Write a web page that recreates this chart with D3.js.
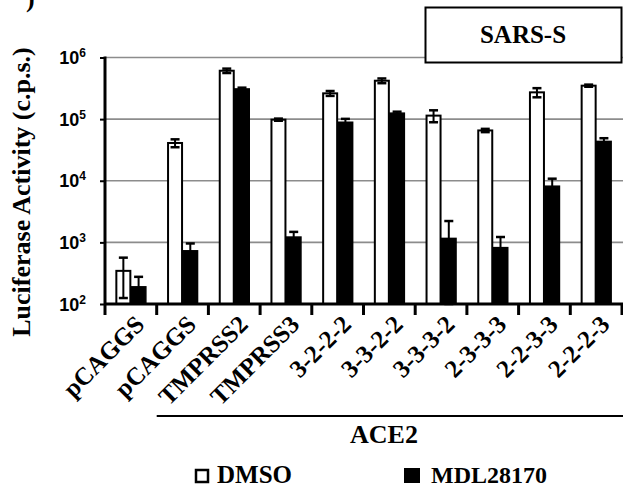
<!DOCTYPE html>
<html><head><meta charset="utf-8">
<script src="https://cdn.jsdelivr.net/npm/d3@7"></script>
<style>body{margin:0;background:#fff}svg{display:block}</style>
</head><body>
<svg id="c" width="623" height="491"></svg>
<script>
const labels = ["pCAGGS","pCAGGS","TMPRSS2","TMPRSS3","3-2-2-2","3-3-2-2","3-3-3-2","2-3-3-3","2-2-3-3","2-2-2-3"];
const dmso   = [345, 41000, 610000, 98000, 262000, 420000, 114000, 65500, 272000, 349000];
const dmsoSD = [220, 6000, 50000, 4000, 24000, 37000, 25000, 4000, 46000, 14000];
const mdl    = [190, 730, 309000, 1220, 89000, 125000, 1160, 822, 8160, 43500];
const mdlSD  = [86, 230, 15000, 260, 12000, 7000, 1060, 400, 2640, 5500];
const yTicks = [100, 1000, 10000, 100000, 1000000];
const seriesNames = ["DMSO", "MDL28170"];
const groupLabel = "ACE2";
const panelTitle = "SARS-S";
const yTitle = "Luciferase Activity (c.p.s.)";

const svg = d3.select("#c");
const serif = "Liberation Serif";
const sans = "Liberation Sans";

const x = d3.scaleBand().domain(d3.range(labels.length)).range([105, 622]).padding(0);
const y = d3.scaleLog().domain([100, 1e6]).range([304, 57.5]);

// gridlines
svg.append("g").selectAll("line").data(yTicks.slice(1)).join("line")
  .attr("x1", 105).attr("x2", 623)
  .attr("y1", d => y(d)).attr("y2", d => y(d))
  .attr("stroke", "#8c8c8c").attr("stroke-width", 1.6);

// panel title box
svg.append("rect").attr("x", 425.5).attr("y", 7.5).attr("width", 196).attr("height", 55)
  .attr("fill", "#fff").attr("stroke", "#000").attr("stroke-width", 2);
svg.append("text").attr("x", 523).attr("y", 43).attr("text-anchor", "middle")
  .attr("font-family", serif).attr("font-weight", "bold").attr("font-size", 25).text(panelTitle);

// partial panel letter at top-left
svg.append("text").attr("x", 26).attr("y", 7).attr("font-family", serif)
  .attr("font-weight", "bold").attr("font-size", 26).text(")");

const cx = i => x(i) + x.bandwidth() / 2;
const bw = 14;

// bars
const g = svg.append("g");
g.selectAll("rect.d").data(dmso).join("rect").attr("class", "d")
  .attr("x", (d, i) => cx(i) - bw - 0.5).attr("width", bw)
  .attr("y", d => y(d)).attr("height", d => y(100) - y(d))
  .attr("fill", "#fff").attr("stroke", "#000").attr("stroke-width", 2);
g.selectAll("rect.m").data(mdl).join("rect").attr("class", "m")
  .attr("x", (d, i) => cx(i) + 0.5).attr("width", bw + 0.5)
  .attr("y", d => y(d)).attr("height", d => y(100) - y(d))
  .attr("fill", "#000").attr("stroke", "#000").attr("stroke-width", 1.5);

// error bars
function errBars(vals, sds, off) {
  const eg = svg.append("g").attr("stroke", "#000");
  vals.forEach((v, i) => {
    const xc = cx(i) + off;
    const hi = v + sds[i], lo = Math.max(v - sds[i], 100);
    eg.append("line").attr("x1", xc).attr("x2", xc).attr("y1", y(hi)).attr("y2", y(lo)).attr("stroke-width", 2);
    eg.append("line").attr("x1", xc - 4.5).attr("x2", xc + 4.5).attr("y1", y(hi)).attr("y2", y(hi)).attr("stroke-width", 2.5);
    eg.append("line").attr("x1", xc - 4.5).attr("x2", xc + 4.5).attr("y1", y(lo)).attr("y2", y(lo)).attr("stroke-width", 2.5);
  });
}
errBars(dmso, dmsoSD, -bw / 2 - 0.5);
errBars(mdl, mdlSD, bw / 2 + 0.75);

// y axis
const ya = svg.append("g").attr("transform", "translate(105,0)")
  .call(d3.axisLeft(y).tickValues(yTicks).tickSize(5).tickFormat(""));
ya.select(".domain").attr("stroke-width", 3).attr("d", `M0,${y(1e6) - 1}V${y(100) + 1}`);
ya.selectAll(".tick line").attr("stroke-width", 2);
const yl = svg.append("g");
yTicks.forEach(t => {
  const e = Math.round(Math.log10(t));
  const tx = yl.append("text").attr("x", 86).attr("y", y(t) + 6.5).attr("text-anchor", "end")
    .attr("font-family", sans).attr("font-weight", "bold").attr("font-size", 18);
  tx.append("tspan").text("10");
  tx.append("tspan").attr("font-size", 12).attr("dy", -7).text(String(e));
});

// x axis
const xa = svg.append("g").attr("transform", "translate(0,304)")
  .call(d3.axisBottom(x).tickSize(0).tickFormat(""));
xa.select(".domain").attr("stroke-width", 3).attr("d", "M104,0H623");
svg.append("g").selectAll("line").data(d3.range(labels.length + 1)).join("line")
  .attr("x1", i => 105 + i * x.bandwidth()).attr("x2", i => 105 + i * x.bandwidth())
  .attr("y1", 304).attr("y2", 315).attr("stroke", "#000").attr("stroke-width", 3);

svg.append("g").selectAll("text").data(labels).join("text")
  .attr("transform", (d, i) => `translate(${cx(i) + 15},${326}) rotate(-45)`)
  .attr("text-anchor", "end").attr("font-family", serif).attr("font-weight", "bold")
  .attr("font-size", 25).text(d => d);

// ACE2 bracket
svg.append("line").attr("x1", x(1)).attr("x2", 623).attr("y1", 416).attr("y2", 416)
  .attr("stroke", "#000").attr("stroke-width", 2);
svg.append("text").attr("x", 384).attr("y", 443).attr("text-anchor", "middle")
  .attr("font-family", serif).attr("font-weight", "bold").attr("font-size", 26).text(groupLabel);

// y title
svg.append("text").attr("transform", "translate(30,192) rotate(-90)").attr("text-anchor", "middle")
  .attr("font-family", serif).attr("font-weight", "bold").attr("font-size", 26).text(yTitle);

// legend
svg.append("rect").attr("x", 196).attr("y", 470).attr("width", 12).attr("height", 12)
  .attr("fill", "#fff").attr("stroke", "#000").attr("stroke-width", 2.5);
svg.append("text").attr("x", 217).attr("y", 483).attr("font-family", serif).attr("font-weight", "bold")
  .attr("font-size", 25).text(seriesNames[0]);
svg.append("rect").attr("x", 404).attr("y", 468).attr("width", 16).attr("height", 15).attr("fill", "#000");
svg.append("text").attr("x", 431).attr("y", 483).attr("font-family", serif).attr("font-weight", "bold")
  .attr("font-size", 24).text(seriesNames[1]);
</script>
</body></html>
